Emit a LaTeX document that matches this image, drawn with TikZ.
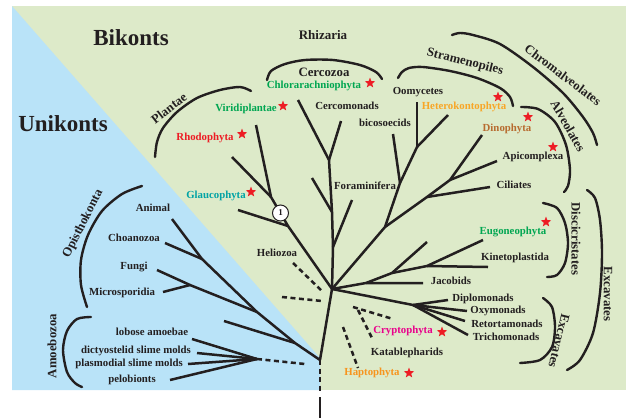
\documentclass[tikz,border=0pt]{standalone}
\usepackage{fontspec}
\setmainfont{Liberation Serif}
\usetikzlibrary{shapes.geometric}
\definecolor{bggreen}{RGB}{221,234,201}
\definecolor{bgblue}{RGB}{185,227,248}
\definecolor{ink}{RGB}{35,31,32}
\definecolor{cgreen}{RGB}{0,166,81}
\definecolor{cred}{RGB}{237,28,36}
\definecolor{cteal}{RGB}{0,163,165}
\definecolor{corange}{RGB}{248,166,38}
\definecolor{cbrown}{RGB}{183,107,47}
\definecolor{cmagenta}{RGB}{233,0,139}
\definecolor{corangeb}{RGB}{247,148,29}
\begin{document}
\begin{tikzpicture}[x=1pt,y=-1pt,
  br/.style={draw=ink,line width=2.5pt,line join=round},
  dsh/.style={draw=ink,line width=2.5pt,dash pattern=on 5pt off 3.5pt},
  arcline/.style={draw=ink,line width=2.4pt,line cap=round},
  leaf/.style={text=ink,font=\fontsize{10.8}{12}\selectfont\bfseries,inner sep=0pt},
  grp/.style={text=ink,font=\fontsize{12.8}{14}\selectfont\bfseries,inner sep=0pt},
  bigtitle/.style={text=ink,font=\fontsize{23}{26}\selectfont\bfseries,inner sep=0pt},
  starmark/.style={star,star points=5,star point ratio=2.4,fill=cred,draw=none,minimum size=11pt,inner sep=0pt},
]
\useasboundingbox (0,0) rectangle (626,418);
% background panels
\fill[white] (0,0) rectangle (626,418);
\fill[bggreen] (12,6) rectangle (626,390);
\fill[bgblue] (12,6) -- (320,358) -- (320,390) -- (12,390) -- cycle;

% ---- coordinates ----
\coordinate (A) at (320,360);
\coordinate (B) at (332,289);
\coordinate (rootlow) at (320,392);
\coordinate (roottop) at (320,397);
\coordinate (rootend) at (320,418);
% unikonts
\coordinate (O3) at (295,343);
\coordinate (O2) at (257,312);
\coordinate (O1) at (202,259);
\coordinate (tAnimal) at (172,219);
\coordinate (tChoano) at (165,243);
\coordinate (tFungi) at (157,270);
\coordinate (Fm) at (190,285);
\coordinate (tMicro) at (163,292);
\coordinate (tUnk) at (224,321);
\coordinate (H) at (257,359);
\coordinate (tLobose) at (192,339);
\coordinate (tDicty) at (197,353);
\coordinate (tPlasmo) at (188,364);
\coordinate (tPelo) at (170,380);
\coordinate (Hend) at (305,364);
% plantae
\coordinate (P1) at (288,226);
\coordinate (P2) at (271,197);
\coordinate (tViri) at (256,125);
\coordinate (tRhodo) at (232,157);
\coordinate (tGlauco) at (238,210);
% heliozoa dashed
\coordinate (hz1) at (293,263);
\coordinate (hz2) at (322,291);
\coordinate (hx1) at (282,297);
\coordinate (hx2) at (322,301);
% rhizaria
\coordinate (R1) at (333,247);
\coordinate (R2) at (332,212);
\coordinate (R3) at (329,160);
\coordinate (tChlor) at (298,100);
\coordinate (tCerco) at (341,121);
\coordinate (tForam) at (312,178);
\coordinate (tR1) at (352,200);
% stramenopiles / alveolates
\coordinate (S1) at (385,227);
\coordinate (S2) at (400,183);
\coordinate (S3) at (417,147);
\coordinate (tHetero) at (448,115);
\coordinate (tBico) at (393,134);
\coordinate (tOomy) at (417,102);
\coordinate (Al1) at (427,197);
\coordinate (Al2) at (450,180);
\coordinate (tDino) at (482,135);
\coordinate (tApi) at (497,161);
\coordinate (tCil) at (490,187);
% excavates
\coordinate (E1) at (366,283);
\coordinate (tJac) at (423,283);
\coordinate (E2) at (392,273);
\coordinate (tE2) at (427,242);
\coordinate (E3) at (427,266);
\coordinate (tEug) at (483,240);
\coordinate (tKin) at (488,267);
\coordinate (D) at (413,305);
\coordinate (tDip) at (448,300);
\coordinate (tOxy) at (467,311);
\coordinate (tRet) at (465,321);
\coordinate (tTri) at (468,335);
% dashed cryptophytes etc
\coordinate (c1) at (353,307);
\coordinate (c2) at (393,319);
\coordinate (k1) at (358,310);
\coordinate (k2) at (372,338);
\coordinate (h1) at (343,327);
\coordinate (h2) at (358,368);

% ---- tree ----
\draw[dsh] (A) -- (rootlow);
\draw[br] (roottop) -- (rootend);
\draw[br] (A) -- (B);
\draw[br] (A) -- (O3) -- (O2) -- (O1) -- (tAnimal);
\draw[br] (O1) -- (tChoano);
\draw[br] (O2) -- (Fm) -- (tFungi);
\draw[br] (Fm) -- (tMicro);
\draw[br] (O3) -- (tUnk);
\draw[br] (H) -- (tLobose);
\draw[br] (H) -- (tDicty);
\draw[br] (H) -- (tPlasmo);
\draw[br] (H) -- (tPelo);
\draw[dsh] (H) -- (Hend);

\draw[br] (B) -- (P1) -- (P2) -- (tViri);
\draw[br] (P2) -- (tRhodo);
\draw[br] (P1) -- (tGlauco);
\node[circle,draw=ink,line width=1pt,fill=white,minimum size=16pt,inner sep=0pt,
      font=\fontsize{9}{10}\selectfont\bfseries,text=ink] (one) at (280.5,213) {1};

\draw[dsh] (hz1) -- (hz2);
\draw[dsh] (hx1) -- (hx2);

\draw[br] (B) -- (R1) -- (R2) -- (R3) -- (tChlor);
\draw[br] (R3) -- (tCerco);
\draw[br] (R2) -- (tForam);
\draw[br] (R1) -- (tR1);

\draw[br] (B) -- (S1) -- (S2) -- (S3) -- (tHetero);
\draw[br] (S2) -- (tBico);
\draw[br] (S3) -- (tOomy);
\draw[br] (S1) -- (Al1) -- (Al2) -- (tDino);
\draw[br] (Al2) -- (tApi);
\draw[br] (Al1) -- (tCil);

\draw[br] (B) -- (E1) -- (tJac);
\draw[br] (E1) -- (E2) -- (tE2);
\draw[br] (E2) -- (E3) -- (tEug);
\draw[br] (E3) -- (tKin);
\draw[br] (B) -- (D) -- (tDip);
\draw[br] (D) -- (tOxy);
\draw[br] (D) -- (tRet);
\draw[br] (D) -- (tTri);

\draw[dsh] (c1) -- (c2);
\draw[dsh] (k1) -- (k2);
\draw[dsh] (h1) -- (h2);

% ---- brackets ----
\draw[arcline] plot[smooth] coordinates {(142,186) (122,194) (102,211) (88,235) (81,260) (81,285) (87,307)};
\draw[arcline] plot[smooth] coordinates {(91,317) (77,319) (67,331) (63,350) (67,372) (75,383) (82,387)};
\draw[arcline] plot[smooth] coordinates {(155,157) (157,142) (163,128) (177,112) (197,98) (220,90) (240,87) (251,91)};
\draw[arcline] plot[smooth] coordinates {(267,80) (271,71) (285,64) (305,60) (333,60) (360,65) (376,72) (382,79)};
\draw[arcline] plot[smooth] coordinates {(398,78) (402,72) (409,68) (423,67) (450,71) (477,78) (500,88) (510,97) (513,106)};
\draw[arcline] plot[smooth] coordinates {(452,35) (460,33) (473,35) (500,44) (533,67) (563,93) (583,117) (593,133) (597,145)};
\draw[arcline] plot[smooth] coordinates {(521,107) (538,109) (555,122) (566,145) (570,170) (568,186) (564,192)};
\draw[arcline] plot[smooth] coordinates {(543,203) (557,208) (565,223) (568,243) (565,263) (557,275) (547,277)};
\draw[arcline] plot[smooth] coordinates {(587,190) (595,198) (600,220) (602,253) (600,293) (593,333) (580,360) (567,370)};
\draw[arcline] plot[smooth] coordinates {(543,298) (552,307) (555,327) (552,347) (540,360) (520,363)};

% ---- titles and group labels ----
\node[bigtitle] (bik) at (131,38) {Bikonts};
\node[bigtitle] (unik) at (63,124) {Unikonts};
\node[text=ink,font=\fontsize{13}{14}\selectfont\bfseries,inner sep=0pt] (rhiz) at (323,35) {Rhizaria};
\node[grp] (cercoz) at (324,72) {Cercozoa};
\node[grp,rotate=38] (plantae) at (169,108) {Plantae};
\node[grp,rotate=63] (opis) at (83,224) {Opisthokonta};
\node[grp,rotate=90] (amoe) at (52,346) {Amoebozoa};
\node[grp,rotate=-14] (stram) at (465,62) {Stramenopiles};
\node[grp,rotate=-37] (chrom) at (563,75) {Chromalveolates};
\node[grp,rotate=-60] (alveo) at (568,126) {Alveolates};
\node[grp,rotate=-90] (disc) at (576,239) {Discicristates};
\node[grp,rotate=-90] (excO) at (608,294) {Excavates};
\node[grp,rotate=-104] (excI) at (559,341) {Excavates};

% ---- leaf labels ----
\node[leaf,text=cgreen] (viri) at (246,109) {Viridiplantae};
\node[leaf,text=cred] (rhodo) at (205,138) {Rhodophyta};
\node[leaf,text=cteal] (glauco) at (216,196) {Glaucophyta};
\node[leaf,text=cgreen] (chlor) at (314,86) {Chlorarachniophyta};
\node[leaf] (cercom) at (347,106) {Cercomonads};
\node[leaf] (oomy) at (418,92) {Oomycetes};
\node[leaf,text=corange] (hetero) at (464,107) {Heterokontophyta};
\node[leaf] (bico) at (385,123) {bicosoecids};
\node[leaf,text=cbrown] (dino) at (507,129) {Dinophyta};
\node[leaf] (api) at (533,157) {Apicomplexa};
\node[leaf] (cil) at (514,185) {Ciliates};
\node[leaf] (foram) at (365,186) {Foraminifera};
\node[leaf] (helio) at (277,253) {Heliozoa};
\node[leaf,text=cgreen] (eugo) at (513,232) {Eugoneophyta};
\node[leaf] (kine) at (515,258) {Kinetoplastida};
\node[leaf] (jaco) at (451,281) {Jacobids};
\node[leaf] (diplo) at (483,299) {Diplomonads};
\node[leaf] (oxy) at (498,311) {Oxymonads};
\node[leaf] (retor) at (507,324) {Retortamonads};
\node[leaf] (tricho) at (506,337) {Trichomonads};
\node[leaf,text=cmagenta] (crypto) at (403,331) {Cryptophyta};
\node[leaf] (katab) at (407,353) {Katablepharids};
\node[leaf,text=corangeb] (hapto) at (372,373) {Haptophyta};
\node[leaf] (animal) at (153,208) {Animal};
\node[leaf] (choano) at (134,238) {Choanozoa};
\node[leaf] (fungi) at (134,267) {Fungi};
\node[leaf] (micro) at (122,293) {Microsporidia};
\node[leaf] (lobose) at (152,332) {lobose amoebae};
\node[leaf] (dicty) at (136,351) {dictyostelid slime molds};
\node[leaf] (plasmo) at (129,364) {plasmodial slime molds};
\node[leaf] (pelo) at (132,380) {pelobionts};

% ---- stars ----
\node[starmark] (s1) at (283,106) {};
\node[starmark] (s2) at (242,134) {};
\node[starmark] (s3) at (251,192) {};
\node[starmark] (s4) at (370,83) {};
\node[starmark] (s5) at (498,97) {};
\node[starmark] (s6) at (528,117) {};
\node[starmark] (s7) at (553,147) {};
\node[starmark] (s8) at (546,222) {};
\node[starmark] (s9) at (442,332) {};
\node[starmark] (s10) at (409,373) {};
\end{tikzpicture}
\end{document}
